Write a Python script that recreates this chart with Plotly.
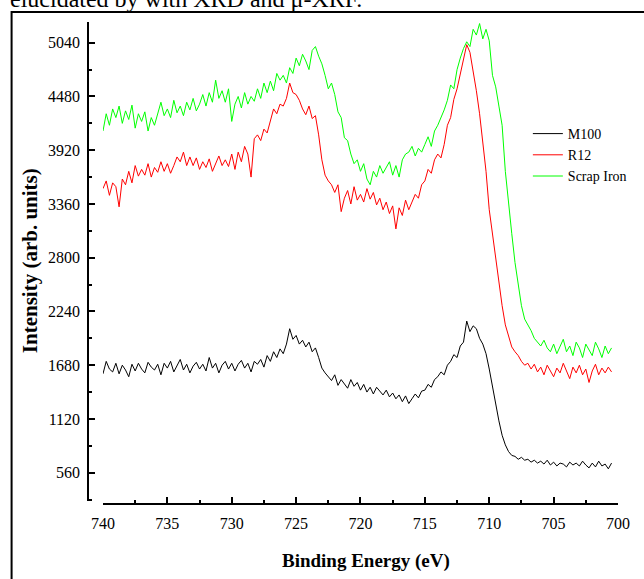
import plotly.graph_objects as go

# Binding energy grid start / step (eV)
E_START = 740.0
E_STEP = 0.25

# Intensities (arb. units), 740 -> 700.5 eV
m100 = [
    1590, 1720, 1640, 1610, 1700, 1590, 1680, 1630, 1560, 1690, 1620, 1700,
    1640, 1600, 1710, 1660, 1630, 1690, 1580, 1700, 1650, 1720, 1610, 1680,
    1740, 1630, 1690, 1600, 1670, 1710, 1640, 1690, 1620, 1760, 1650, 1700,
    1600, 1680, 1720, 1640, 1700, 1620, 1690, 1730, 1650, 1700, 1610, 1720,
    1690, 1740, 1660, 1780, 1720, 1820, 1760, 1850, 1800, 1900, 2060, 1950,
    1990, 1900, 1940, 1870, 1920, 1820, 1860, 1760, 1650, 1600, 1560, 1520,
    1580, 1470, 1530, 1490, 1440, 1530, 1460, 1500, 1420, 1480, 1400, 1450,
    1380, 1450, 1410, 1370, 1420, 1350, 1390, 1330, 1370, 1300, 1360, 1280,
    1330, 1380, 1340, 1410, 1420, 1480, 1450, 1530, 1560, 1610, 1580, 1680,
    1720, 1790, 1760, 1880, 1920, 2140, 2030, 2090, 2060, 1960, 1900, 1800,
    1640, 1450, 1250, 1100, 950, 850, 780, 740, 730, 700, 720, 690,
    700, 670, 690, 660, 680, 650, 690, 640, 670, 630, 660, 650,
    620, 670, 640, 660, 630, 680, 640, 610, 660, 620, 680, 630,
    650, 600, 660,
]

r12 = [
    3520, 3600, 3450, 3580, 3540, 3330, 3620, 3560, 3700, 3580, 3760, 3650,
    3720, 3660, 3780, 3640, 3740, 3690, 3800, 3700, 3780, 3680, 3760, 3850,
    3800, 3900, 3760, 3850, 3760, 3840, 3720, 3800, 3740, 3830, 3700, 3790,
    3860, 3760, 3820, 3750, 3880, 3720, 3900, 3800, 3960, 3880, 3640, 4040,
    4080, 4020, 4140, 4100, 4240, 4350, 4300, 4400, 4380, 4460, 4620, 4520,
    4500, 4440, 4350, 4290, 4380, 4250, 4280, 4080, 3820, 3660, 3600, 3560,
    3480, 3560, 3280, 3420, 3500, 3360, 3540, 3400, 3460, 3380, 3520, 3410,
    3480, 3350, 3420, 3300, 3380, 3260, 3340, 3100, 3320, 3240, 3400, 3300,
    3380, 3460, 3420, 3560, 3600, 3720, 3680, 3820, 3880, 3840, 3980, 4180,
    4260, 4450, 4560, 4720, 4850, 5020, 4940, 4760, 4540, 4300, 4000, 3700,
    3300, 3050, 2760, 2540, 2300, 2100, 1980, 1870, 1820, 1780, 1720, 1680,
    1700, 1640, 1690, 1610, 1660, 1580, 1680, 1620, 1560, 1650, 1600, 1700,
    1620, 1540, 1660, 1600, 1680, 1580, 1640, 1500, 1620, 1690, 1580, 1650,
    1600, 1660, 1610,
]

scrap_iron = [
    4120, 4300, 4180, 4350, 4260, 4380, 4200, 4330, 4240, 4390, 4150, 4300,
    4220, 4320, 4120, 4260, 4180, 4300, 4420, 4280, 4350, 4260, 4440, 4310,
    4380, 4280, 4420, 4340, 4460, 4330, 4400, 4500, 4380, 4520, 4420, 4650,
    4460, 4540, 4420, 4560, 4220, 4400, 4480, 4360, 4520, 4400, 4480, 4430,
    4560, 4460, 4620, 4520, 4640, 4540, 4720, 4650, 4700, 4620, 4780, 4720,
    4880, 4800, 4920, 4850, 4760, 4960, 5000, 4900, 4820, 4700, 4560, 4620,
    4500, 4320, 4260, 4050, 4020, 3880, 3780, 3820, 3700, 3780, 3620, 3560,
    3700, 3640, 3760, 3680, 3740, 3800, 3660, 3760, 3640, 3820, 3880, 3900,
    3960, 3860, 3940, 3900, 3980, 4060, 3960, 4120, 4180, 4260, 4340, 4440,
    4600, 4560, 4760, 4880, 4980, 5050, 5000, 5180, 5120, 5240, 5080, 5180,
    5060, 4700, 4580, 4380, 4180, 3700, 3350, 3050, 2750, 2500, 2300, 2160,
    2100, 2040, 1960, 1920, 1880, 1940, 1860, 1820, 1900, 1800, 1880, 1950,
    1820, 1880, 1780, 1920, 1860, 1760, 1900, 1840, 1780, 1920, 1850, 1760,
    1880, 1800, 1860,
]

series_names = ["M100", "R12", "Scrap Iron"]
series_colors = ["#000000", "#FF0000", "#00FF00"]
series_values = [m100, r12, scrap_iron]

x_ticks = [740, 735, 730, 725, 720, 715, 710, 705, 700]
y_ticks = [560, 1120, 1680, 2240, 2800, 3360, 3920, 4480, 5040]

# pixel layout helpers
W, H = 644, 579
L, R, T, B = 88, 629, 22, 504


def px(xp):
    return (xp - L) / (R - L)


def py(yp):
    return (B - yp) / (B - T)


fig = go.Figure()
for name, color, vals in zip(series_names, series_colors, series_values):
    energies = [E_START - E_STEP * i for i in range(len(vals))]
    fig.add_trace(go.Scatter(
        x=energies, y=vals, mode="lines", name=name,
        line=dict(color=color, width=1),
    ))

serif = "Liberation Serif, Times New Roman, serif"

fig.update_layout(
    width=W, height=H,
    margin=dict(l=L, r=W - R, t=T, b=H - B),
    paper_bgcolor="white", plot_bgcolor="white",
    font=dict(family=serif, color="black", size=16),
    showlegend=True,
    legend=dict(
        x=px(537), y=py(118), xanchor="left", yanchor="top",
        bgcolor="rgba(0,0,0,0)", borderwidth=0,
        font=dict(family=serif, size=14, color="black"),
        tracegroupgap=0,
    ),
    xaxis=dict(
        domain=[px(103.3), 1], range=[740, 700], autorange=False,
        anchor="free", position=0,
        showline=True, linecolor="black", linewidth=1.5,
        showgrid=False, zeroline=False,
        ticks="inside", ticklen=6, tickwidth=1.5, tickcolor="black",
        tickvals=x_ticks, ticktext=[str(v) for v in x_ticks],
        tickfont=dict(family=serif, size=16, color="black"),
        ticklabelstandoff=5,
        minor=dict(ticks="inside", ticklen=3, tickwidth=1.5, tickcolor="black", dtick=2.5, tick0=700),
    ),
    yaxis=dict(
        domain=[py(501), 1], range=[265, 5256], autorange=False,
        anchor="free", position=0,
        showline=True, linecolor="black", linewidth=1.5,
        showgrid=False, zeroline=False,
        ticks="inside", ticklen=6, tickwidth=1.5, tickcolor="black",
        tickvals=y_ticks, ticktext=[str(v) for v in y_ticks],
        tickfont=dict(family=serif, size=16, color="black"),
        ticklabelstandoff=4,
        minor=dict(ticks="inside", ticklen=3, tickwidth=1.5, tickcolor="black", dtick=280, tick0=0),
    ),
    annotations=[
        dict(text="Binding Energy (eV)", xref="paper", yref="paper",
             x=px(371.7), y=py(560.7), xanchor="center", yanchor="middle",
             showarrow=False, font=dict(family=serif, size=19, color="black", weight="bold")),
        dict(text="Intensity (arb. units)", xref="paper", yref="paper",
             x=px(29), y=py(261), xanchor="center", yanchor="middle", textangle=-90,
             showarrow=False, font=dict(family=serif, size=21, color="black", weight="bold")),
        dict(text="elucidated by with XRD and μ-XRF.", xref="paper", yref="paper",
             x=px(6), y=py(13.5), xanchor="left", yanchor="bottom",
             showarrow=False, font=dict(family=serif, size=24, color="black")),
    ],
    shapes=[
        dict(type="rect", xref="paper", yref="paper",
             x0=px(10), x1=px(700), y0=py(700), y1=py(12),
             line=dict(color="black", width=2), fillcolor="rgba(0,0,0,0)", layer="below"),
    ],
)

fig.write_html("out.html")
